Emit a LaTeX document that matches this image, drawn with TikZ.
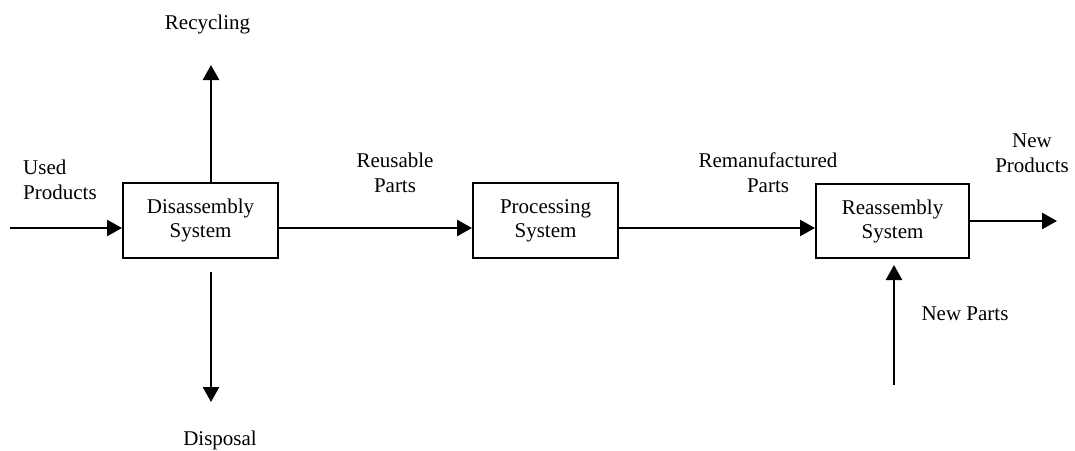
\documentclass[tikz,border=0pt]{standalone}
\usepackage{fontspec}
\setmainfont{Liberation Serif}
\usetikzlibrary{arrows.meta}
\tikzset{
  sysbox/.style={draw, line width=2pt, minimum height=75pt, align=center, inner sep=0pt,
    font=\fontsize{21}{24}\selectfont},
  lbl/.style={align=center, inner sep=0pt, font=\fontsize{21}{25}\selectfont},
  flow/.style={line width=2.5pt, -{Triangle[length=15pt,width=16pt]}}
}
\begin{document}
\begin{tikzpicture}[x=1pt,y=-1pt]
\useasboundingbox (0,0) rectangle (1075,450);

% the three systems
\node[sysbox, minimum width=155pt] (dis) at (200.5,220.5) {\raisebox{-3pt}{Disassembly}\\\raisebox{-3pt}{System}};
\node[sysbox, minimum width=145pt] (pro) at (545.5,220.5) {\raisebox{-3pt}{Processing}\\\raisebox{-3pt}{System}};
\node[sysbox, minimum width=153pt, minimum height=74pt] (rea) at (892.5,221) {\raisebox{-3pt}{Reassembly}\\\raisebox{-3pt}{System}};

% free ends of the outer flows
\coordinate (usedin) at (10,228);
\coordinate (recyc) at (211,65);
\coordinate (dispstart) at (211,272);
\coordinate (dispend) at (211,402);
\coordinate (newout) at (1057,221);
\coordinate (partsin) at (894,385);
\coordinate (partsend) at (894,265);

% flows
\draw[flow] (usedin) -- (dis.west |- usedin);
\draw[flow] ([xshift=10.5pt]dis.north) -- (recyc);
\draw[flow] (dispstart) -- (dispend);
\draw[flow] ([yshift=-7.5pt]dis.east) -- ([yshift=-7.5pt]pro.west);
\draw[flow] ([yshift=-7.5pt]pro.east) -- ([yshift=-7pt]rea.west);
\draw[flow] (rea.east) -- (newout);
\draw[flow] (partsin) -- (partsend);

% labels
\node[lbl, anchor=base] (lrecyc) at (207.5,29) {Recycling};
\node[lbl, anchor=base] (ldisp) at (220,445) {Disposal};
\node[lbl, anchor=base west, align=left] (lused) at (23,199) {Used\\Products};
\node[lbl, anchor=base] (lreuse) at (395,192) {Reusable\\Parts};
\node[lbl, anchor=base] (lreman) at (768,192) {Remanufactured\\Parts};
\node[lbl, anchor=base] (lnewprod) at (1032,172) {New\\Products};
\node[lbl, anchor=base] (lnewparts) at (965,320) {New Parts};
\end{tikzpicture}
\end{document}
